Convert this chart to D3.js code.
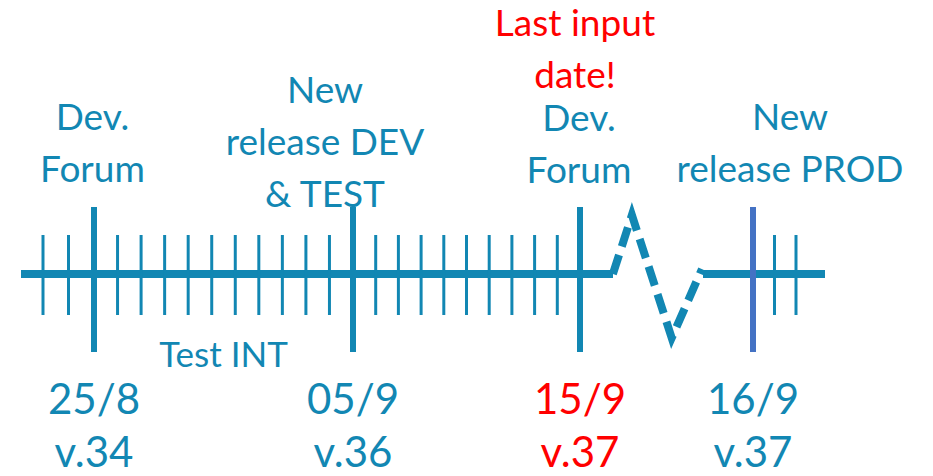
<!DOCTYPE html>
<html>
<head>
<meta charset="utf-8">
<script src="https://cdn.jsdelivr.net/npm/d3@7"></script>
<style>
  body { margin: 0; background: #fff; }
  text { font-family: Lato, "Open Sans", sans-serif; }
</style>
</head>
<body>
<svg id="chart"></svg>
<script>
const width = 933;
const height = 476;

// milestone dates (day/month) and their versions
const milestones = ["25/8", "05/9", "15/9", "16/9"];
const versions = ["v.34", "v.36", "v.37", "v.37"];
const milestoneNotes = [
  ["Dev.", "Forum"],
  ["New", "release DEV", "& TEST"],
  ["Dev.", "Forum"],
  ["New", "release PROD"]
];
const deadline = "15/9";
const deadlineNote = ["Last input", "date!"];
const phaseLabel = "Test INT";
// first and last day shown
const firstDay = "23/8";
const lastDay = "18/9";

const teal = "#1287b3";
const red = "#ff0000";
const prodBlue = "#4472c4";

const parse = d3.timeParse("%d/%m");

// broken time axis: piecewise scale, squeezed after the break
let x = d3.scaleTime()
    .domain([firstDay, "25/8", "05/9", "15/9", "16/9", lastDay].map(parse))
    .range([43, 94, 353, 580, 753, 796]);

const axisY = 274;
let y = d3.scaleLinear().domain([-1, 1]).range([axisY + 62, axisY - 62]);

const svg = d3.select("#chart")
    .attr("width", width)
    .attr("height", height);

const mDates = milestones.map(parse);
const minorDays = d3.timeDay.range(parse(firstDay), d3.timeDay.offset(parse(lastDay), 1))
    .filter(d => !mDates.some(m => +m === +d));

// axis line, two solid pieces either side of the break
svg.append("line")
    .attr("x1", 21).attr("x2", 613)
    .attr("y1", axisY).attr("y2", axisY)
    .attr("stroke", teal).attr("stroke-width", 8);
svg.append("line")
    .attr("x1", 703).attr("x2", 825)
    .attr("y1", axisY).attr("y2", axisY)
    .attr("stroke", teal).attr("stroke-width", 8);

// zigzag break between 15/9 and 16/9 (fraction of day, amplitude)
const breakShape = [[0.19, 0], [0.30, 0.95], [0.53, -1.03], [0.705, 0.08]];
const day15 = parse("15/9");
svg.append("path")
    .attr("d", d3.line()
        .x(d => x(new Date(+day15 + d[0] * 864e5)))
        .y(d => y(d[1]))(breakShape))
    .attr("fill", "none")
    .attr("stroke", teal)
    .attr("stroke-width", 8)
    .attr("stroke-dasharray", "20 9")
    .attr("stroke-linejoin", "miter");

// daily minor ticks
svg.append("g")
    .selectAll("line")
    .data(minorDays)
    .enter()
    .append("line")
    .attr("x1", d => x(d)).attr("x2", d => x(d))
    .attr("y1", 235).attr("y2", 315)
    .attr("stroke", teal)
    .attr("stroke-width", 3);

// milestone ticks
svg.append("g")
    .selectAll("line")
    .data(mDates)
    .enter()
    .append("line")
    .attr("x1", d => x(d)).attr("x2", d => x(d))
    .attr("y1", 207).attr("y2", 352)
    .attr("stroke", (d, i) => i === 3 ? prodBlue : teal)
    .attr("stroke-width", 6);

// notes above milestones
const noteLayout = [
  {dx: -1.5, base: 182},
  {dx: -28, base: 207},
  {dx: -1, base: 183},
  {dx: 37, base: 182}
];
const lineH = 52;

milestoneNotes.forEach((lines, i) => {
    svg.append("g")
        .selectAll("text")
        .data(lines)
        .enter()
        .append("text")
        .attr("x", x(mDates[i]) + noteLayout[i].dx)
        .attr("y", (d, j) => noteLayout[i].base - (lines.length - 1 - j) * lineH)
        .attr("text-anchor", "middle")
        .attr("font-size", 37)
        .attr("fill", teal)
        .text(d => d);
});

svg.append("g")
    .selectAll("text")
    .data(deadlineNote)
    .enter()
    .append("text")
    .attr("x", x(parse(deadline)) - 5)
    .attr("y", (d, j) => 36 + j * lineH)
    .attr("text-anchor", "middle")
    .attr("font-size", 37)
    .attr("fill", red)
    .text(d => d);

// phase label between first two milestones
svg.append("text")
    .attr("x", (x(mDates[0]) + x(mDates[1])) / 2)
    .attr("y", 367)
    .attr("text-anchor", "middle")
    .attr("font-size", 35)
    .attr("fill", teal)
    .text(phaseLabel);

// dates and versions below
const isDeadline = d => d === deadline;

svg.append("g")
    .selectAll("text")
    .data(milestones)
    .enter()
    .append("text")
    .attr("x", d => x(parse(d)))
    .attr("y", 414)
    .attr("text-anchor", "middle")
    .attr("font-size", 42)
    .attr("fill", d => isDeadline(d) ? red : teal)
    .text(d => d);

svg.append("g")
    .selectAll("text")
    .data(versions)
    .enter()
    .append("text")
    .attr("x", (d, i) => x(mDates[i]))
    .attr("y", 467)
    .attr("text-anchor", "middle")
    .attr("font-size", 42)
    .attr("fill", (d, i) => isDeadline(milestones[i]) ? red : teal)
    .text(d => d);
</script>
</body>
</html>
